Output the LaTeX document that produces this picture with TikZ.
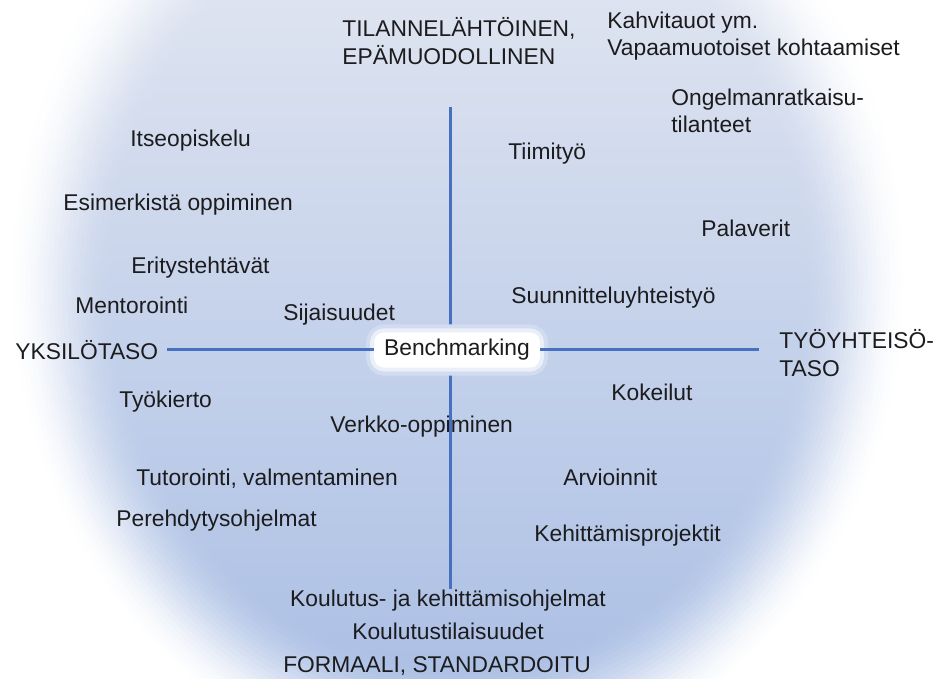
\documentclass[tikz,border=0pt]{standalone}
\usepackage{fontspec}
\setmainfont{Liberation Sans}
\usepackage{tikz}
\definecolor{bgtop}{RGB}{221,227,240}
\definecolor{bgbottom}{RGB}{172,192,229}
\definecolor{axisblue}{RGB}{72,112,192}
\definecolor{textgray}{RGB}{28,28,30}
\tikzstyle{txt} = [anchor=west, inner sep=0pt, text=textgray, font=\fontsize{11.4}{13.8}\selectfont]
\tikzstyle{txtc} = [txt, anchor=center]
\tikzstyle{twoline} = [txt, align=left]
\tikzstyle{axis} = [draw=axisblue, line width=1.5pt]
\tikzstyle{glow} = [txtc, fill=white, rounded corners=5pt, inner xsep=5pt, inner ysep=3.5pt,
  preaction={draw=white!45!bgbottom, line width=8pt}, preaction={draw=white!75!bgbottom, line width=4pt}]

\begin{document}
\begin{tikzpicture}[node distance=15pt, x=0.5pt, y=-0.5pt]
\useasboundingbox (0,0) rectangle (938,679);
\clip (0,0) rectangle (938,679);
% Tausta: vaalenee reunoja kohti
\fill[white] (0,0) rectangle (938,679);
\foreach \i [evaluate=\i as \s using 1-(\i-1)*0.01, evaluate=\i as \p using 100*(3*(\i/24)^2-2*(\i/24)^3)] in {1,...,24} {
  \begin{scope}
    \clip (458,280) ellipse [x radius={225pt*\s}, y radius={250pt*\s}];
    \shade[top color=bgtop!\p!white, bottom color=bgbottom!\p!white] (0,0) rectangle (938,679);
  \end{scope}
}

% Akselit
\coordinate (ytop) at (450,107);
\coordinate (ybottom) at (450,589);
\coordinate (xleft) at (167,350);
\coordinate (xright) at (759,350);
\draw [axis] (ytop) -- (ybottom);
\node (bench) [glow] at (457,350) {Benchmarking};
\draw [axis] (xleft) -- (bench.west);
\draw [axis] (bench.east) -- (xright);

% Akselien nimet
\node (tilanne) [twoline] at (342,41) {TILANNELÄHTÖINEN,\\EPÄMUODOLLINEN};
\node (yksilo) [txt] at (15,350) {YKSILÖTASO};
\node (tyoyhteiso) [twoline] at (779,353) {TYÖYHTEISÖ-\\TASO};
\node (koulutus) [txtc] at (448,601) {Koulutus- ja kehittämisohjelmat};
\node (tilaisuudet) [txtc, below of=koulutus] {Koulutustilaisuudet};
\node (formaali) [txtc, below of=tilaisuudet, yshift=-2.5pt, xshift=-5.5pt] {FORMAALI, STANDARDOITU};

% Oikea yläneljännes
\node (kahvi) [twoline] at (607,36) {Kahvitauot ym.\\Vapaamuotoiset kohtaamiset};
\node (ongelma) [twoline] at (671,111) {Ongelmanratkaisu-\\tilanteet};
\node (tiimi) [txt] at (508,154) {Tiimityö};
\node (palaverit) [txt] at (701,228) {Palaverit};
\node (suunnittelu) [txt] at (511,298) {Suunnitteluyhteistyö};

% Vasen yläneljännes
\node (itse) [txt] at (130,141) {Itseopiskelu};
\node (esimerkki) [txt] at (63,205) {Esimerkistä oppiminen};
\node (eritys) [txt] at (131,268) {Eritystehtävät};
\node (mentor) [txt] at (75,305) {Mentorointi};
\node (sijaisuus) [txt] at (283,315) {Sijaisuudet};

% Alaneljännekset
\node (kierto) [txt] at (119,402) {Työkierto};
\node (verkko) [txt] at (330,427) {Verkko-oppiminen};
\node (tutor) [txt] at (136,479) {Tutorointi, valmentaminen};
\node (perehdytys) [txt] at (116,521) {Perehdytysohjelmat};
\node (kokeilut) [txt] at (611,392) {Kokeilut};
\node (arviointi) [txt] at (563,477) {Arvioinnit};
\node (projektit) [txt] at (534,536) {Kehittämisprojektit};
\end{tikzpicture}
\end{document}
